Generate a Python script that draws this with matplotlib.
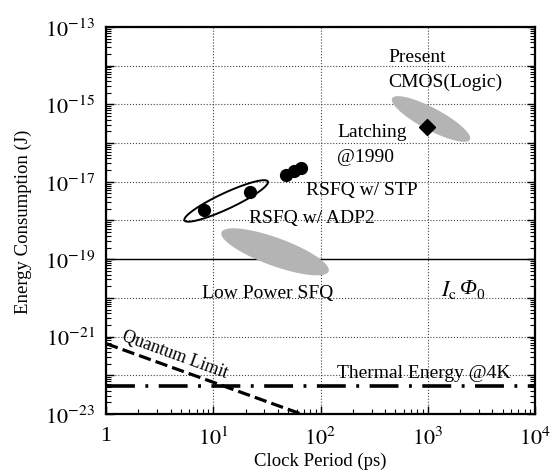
import numpy as np
import matplotlib
matplotlib.use('Agg')
import matplotlib.pyplot as plt
from matplotlib.patches import Polygon
from matplotlib.ticker import FixedLocator, LogLocator, FuncFormatter, NullFormatter

plt.rcParams['font.family'] = 'Liberation Serif'
plt.rcParams['mathtext.fontset'] = 'stix'

# data
adp2_period = [8.2, 22.0]
adp2_energy = [1.9e-18, 5.5e-18]
stp_period = [47.7, 56.6, 65.8]
stp_energy = [1.5e-17, 1.9e-17, 2.3e-17]
latch_period = [985.0]
latch_energy = [2.6e-16]
quantum_period = [1.0, 100.0]
quantum_energy = [6.6e-22, 6.6e-24]
thermal_period = [1.0, 1e4]
thermal_energy = [5.2e-23, 5.2e-23]
icphi_energy = 1e-19

# regions: (center period, center energy, half major px, half minor px, angle deg, style)
regions = [
    (13.2, 3.2e-18, 46, 8, 25, 'outline'),   # RSFQ w/ ADP2
    (1072, 4.2e-16, 44, 11, -28, 'fill'),    # Present CMOS
    (37.7, 1.55e-19, 57, 14, -20, 'fill'),   # Low Power SFQ
]

labels = [
    ('Present', 426, 1.78e-14),
    ('CMOS(Logic)', 426, 3.98e-15),
    ('Latching', 142.6, 1.95e-16),
    ('@1990', 142.6, 4.4e-17),
    ('RSFQ w/ STP', 73, 6.5e-18),
    ('RSFQ w/ ADP2', 21.5, 1.23e-18),
    ('Low Power SFQ', 7.85, 1.41e-20),
]

fig = plt.figure(figsize=(5.59, 4.77), dpi=100)
ax = fig.add_axes([0.1896, 0.130, 0.7675, 0.8113])
ax.set_xscale('log')
ax.set_yscale('log')
ax.set_xlim(1, 1e4)
ax.set_ylim(1e-23, 1e-13)

ax.grid(True, which='major', linestyle=':', color='#444444', linewidth=0.8)
ax.axhline(icphi_energy, color='black', linewidth=1.0)

# ellipses built in display space so they look the same as in the original
for cx, cy, a, b, ang, style in regions:
    c = ax.transData.transform((cx, cy))
    t = np.linspace(0, 2 * np.pi, 200)
    th = np.deg2rad(ang)
    px = c[0] + a * np.cos(t) * np.cos(th) - b * np.sin(t) * np.sin(th)
    py = c[1] + a * np.cos(t) * np.sin(th) + b * np.sin(t) * np.cos(th)
    pts = ax.transData.inverted().transform(np.column_stack([px, py]))
    if style == 'fill':
        poly = Polygon(pts, closed=True, facecolor='#b4b4b4', edgecolor='none', zorder=2)
    else:
        poly = Polygon(pts, closed=True, facecolor='none', edgecolor='black', linewidth=1.4, zorder=3)
    ax.add_patch(poly)

ax.plot(adp2_period, adp2_energy, 'o', color='black', markersize=8.5, zorder=4)
ax.plot(stp_period, stp_energy, 'o', color='black', markersize=8.5, zorder=4)
ax.plot(latch_period, latch_energy, 'D', color='black', markersize=8, zorder=4)
ax.plot(quantum_period, quantum_energy, color='black', linewidth=2.3, linestyle=(0, (3.9, 1.6)), zorder=4)
ax.plot(thermal_period, thermal_energy, color='black', linewidth=2.6, linestyle=(0, (8, 2.9, 0.8, 2.9)), zorder=4)

for txt, x, y in labels:
    ax.text(x, y, txt, fontsize=14, ha='left', va='center', zorder=5)
ax.text(4.4, 3.5e-22, 'Quantum Limit', fontsize=13, rotation=-20, ha='center', va='center', zorder=5)
ax.text(923, 1.2e-22, 'Thermal Energy @4K', fontsize=14, ha='center', va='center', zorder=5)

# I_c Phi_0 label, pieced together so the Phi can be italic
icphi_xy = (2000, 1.7e-20)
ax.annotate(r'$I_{\mathrm{c}}$', xy=icphi_xy, xytext=(-2, 0), textcoords='offset points',
            fontsize=16, ha='right', va='center', zorder=5)
ax.annotate('Φ', xy=icphi_xy, xytext=(0, 0), textcoords='offset points',
            fontsize=16, style='italic', ha='left', va='center', zorder=5)
ax.annotate('0', xy=icphi_xy, xytext=(12, -4), textcoords='offset points',
            fontsize=11, ha='left', va='center', zorder=5)

ax.xaxis.set_major_locator(FixedLocator([1, 10, 100, 1000, 10000]))
ax.xaxis.set_major_formatter(FuncFormatter(lambda v, p: '1' if v == 1 else r'$10^{%d}$' % round(np.log10(v))))
ax.xaxis.set_minor_locator(LogLocator(base=10, subs=np.arange(2, 10), numticks=20))
ax.xaxis.set_minor_formatter(NullFormatter())
ax.yaxis.set_major_locator(FixedLocator([10.0 ** k for k in range(-23, -12)]))
ax.yaxis.set_major_formatter(FuncFormatter(
    lambda v, p: r'$10^{%d}$' % round(np.log10(v)) if round(np.log10(v)) % 2 != 0 else ''))
ax.yaxis.set_minor_locator(LogLocator(base=10, subs=np.arange(2, 10), numticks=20))
ax.yaxis.set_minor_formatter(NullFormatter())

ax.tick_params(axis='both', which='both', direction='in', labelsize=16)
ax.tick_params(axis='y', which='both', right=True)
ax.tick_params(which='major', length=6, width=1.0)
ax.tick_params(which='minor', length=3.5, width=0.8)
ax.tick_params(axis='x', pad=9)
ax.tick_params(axis='y', pad=8)
for s in ax.spines.values():
    s.set_linewidth(1.6)

ax.set_xlabel('Clock Period (ps)', fontsize=13.5, labelpad=2)
ax.set_ylabel('Energy Consumption (J)', fontsize=13.5, labelpad=9)

fig.savefig('out.png', dpi=100)
